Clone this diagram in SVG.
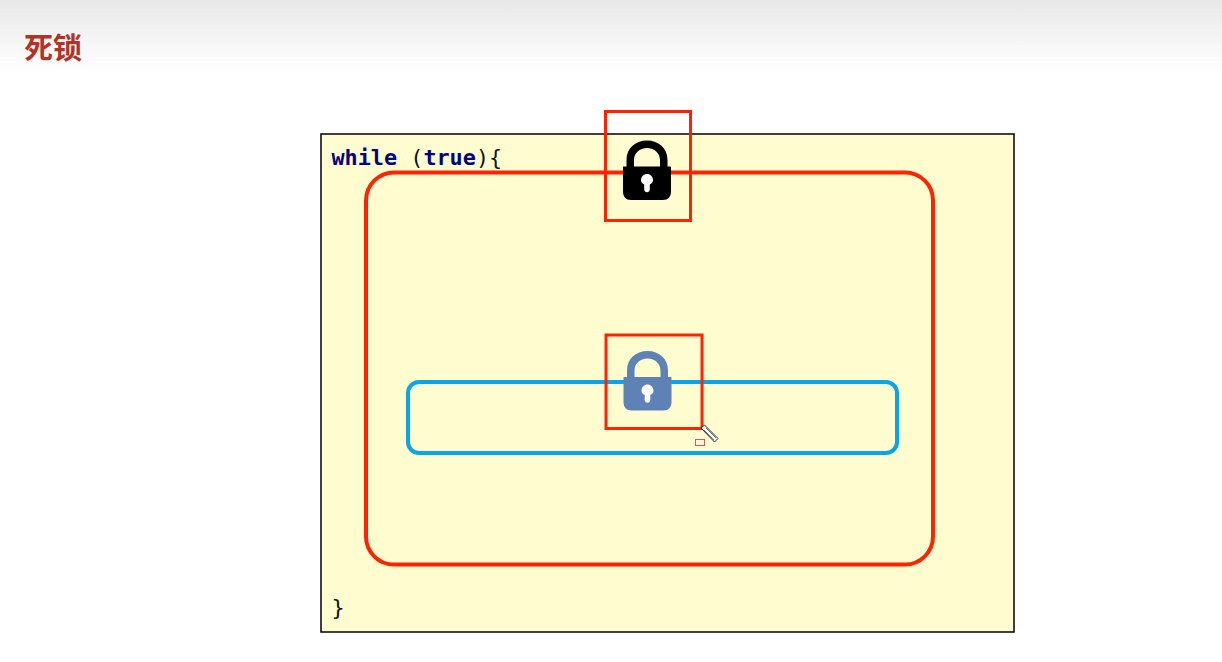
<svg xmlns="http://www.w3.org/2000/svg" width="1222" height="662" viewBox="0 0 1222 662">
<style>
.code{font-family:"DejaVu Sans Mono","Liberation Mono",monospace;font-size:21.800px;fill:#111}
.kw{font-weight:bold;fill:#000080}
.sel{fill:none;stroke:#ff2400;stroke-width:3}
</style>
<defs>
<linearGradient id="hdr" x1="0" y1="0" x2="0" y2="1"><stop offset="0" stop-color="#e8e8e8"/><stop offset="1" stop-color="#ffffff"/></linearGradient>
<path id="lock" fill-rule="evenodd" d="M-24 -5.500V-3.800C-24 -3.800 -23.500 -4 -23 -4H-20.500V-10.500C-20.500 -22 -12 -30 0 -30C12 -30 20.500 -22 20.500 -10.500V-4H23C23.500 -4 24 -3.800 24 -3.500V21C24 26 21 29.500 16 29.500H-16C-21 29.500 -24 26 -24 21ZM-13 -4H13V-10.500C13 -17.500 7.500 -22.500 0 -22.500C-7.500 -22.500 -13 -17.500 -13 -10.500Z"/>
<path id="keyhole" fill="#fff" d="M-2.800 14V19C-2.800 20.500 -1.500 21.800 0 21.800C1.500 21.800 2.800 20.500 2.800 19V14C4.700 13 6 11.500 6 9.500C6 6.300 3.300 3.600 0 3.600C-3.300 3.600 -6 6.300 -6 9.500C-6 11.500 -4.700 13 -2.800 14Z"/>
</defs>
<rect width="1222" height="662" fill="#fff"/>
<rect id="header" width="1222" height="72" fill="url(#hdr)"/>
<text id="title" x="24" y="59" font-family="'Noto Sans CJK SC','Noto Sans',sans-serif" font-size="29" font-weight="700" fill="#b23128">死锁</text>
<g id="loop-box">
<rect x="321" y="134" width="693" height="498" fill="#fffdd0" stroke="#000" stroke-width="1.500"/>
<text class="code" x="331.500" y="165"><tspan class="kw">while</tspan> (<tspan class="kw">true</tspan>){</text>
<text class="code" x="331.500" y="615">}</text>
</g>
<g id="outer-block"><rect x="366" y="172.500" width="567" height="392" rx="28" fill="none" stroke="#ff2400" stroke-width="4"/></g>
<g id="inner-block"><rect x="408" y="382" width="489" height="71" rx="11" fill="none" stroke="#0ca4e8" stroke-width="4"/></g>
<g id="outer-lock">
<use href="#lock" transform="translate(647 170.500)" fill="#000"/>
<use href="#keyhole" transform="translate(647 170.500)"/>
<rect class="sel" x="605.500" y="111.500" width="85" height="109"/>
</g>
<g id="inner-lock">
<use href="#lock" transform="translate(647.500 381)" fill="#5f82b6"/>
<use href="#keyhole" transform="translate(647.500 381)"/>
<rect class="sel" x="606" y="335" width="96" height="93.500"/>
</g>
<g id="cursor">
<path d="M701 428L704.500 425L718 438.500L714.500 442Z" fill="#fff" stroke="#222" stroke-width="1"/>
<path d="M704 430L714 440M706 428L716 438" fill="none" stroke="#777" stroke-width="1"/>
<rect x="695.500" y="439.500" width="9" height="6" fill="#fff4e0" stroke="#c8604a" stroke-width="1"/>
</g>
</svg>
